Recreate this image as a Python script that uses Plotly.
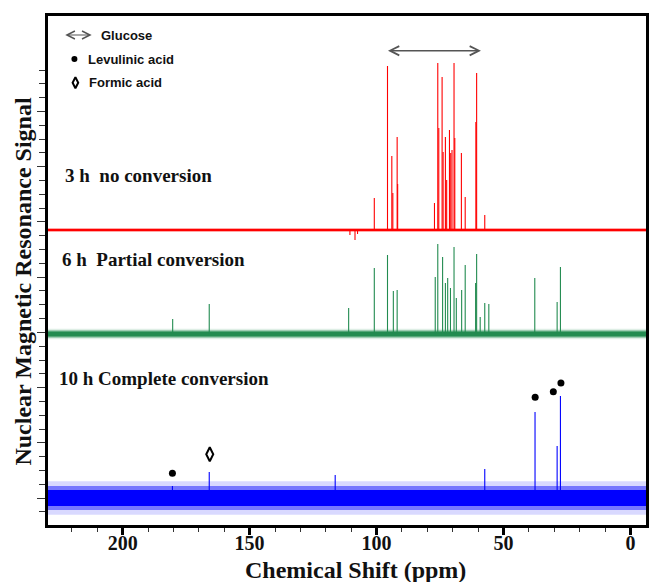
import plotly.graph_objects as go

# ---------------- data (ppm, intensity in arbitrary units) ----------------
X_MIN, X_MAX = -6.1, 229.4

red_base = 295
red_noise = 1.0
red_ppm = [100.9, 95.7, 94.0, 93.6, 91.9, 91.7, 77.2, 75.9, 75.5, 74.2, 73.8, 72.9, 72.4,
           71.3, 70.8, 70.3, 69.5, 69.2, 66.6, 65.1, 60.9, 60.6, 57.4, 110.5, 108.5, 107.5]
red_int = [32, 164, 74, 37, 93, 46, 27, 167, 102, 153, 78, 93, 50,
           100, 77, 80, 167, 92, 77, 33, 108, 157, 15, -5, -10, -4]

green_base = 191
green_noise = 2.5
green_ppm = [180.3, 165.9, 111.0, 100.9, 95.7, 93.4, 91.9, 76.9, 75.9, 74.0, 72.9, 72.0,
             70.9, 69.5, 68.6, 66.5, 65.1, 61.0, 60.6, 59.2, 57.4, 55.8, 37.7, 28.9, 27.6]
green_int = [15, 30, 26, 66, 79, 43, 44, 57, 90, 77, 51, 56,
             46, 87, 36, 44, 69, 51, 80, 17, 31, 30, 56, 32, 67]

blue_base = 27
blue_noise = 8
blue_ppm = [180.4, 165.9, 116.3, 57.4, 37.6, 28.9, 27.6]
blue_int = [12, 26, 23, 29, 86, 52, 102]

# peak assignments on the 10 h spectrum
levulinic_ppm = [180.4, 37.55, 30.4, 27.4]
levulinic_y = [51.7, 127.7, 133.3, 142.0]
formic_ppm = [165.7]
formic_y = [70.7]

glucose_range = [96.1, 58.9]
glucose_y = 474.3

labels = ["3 h  no conversion", "6 h  Partial conversion", "10 h Complete conversion"]
label_ppm = [223.4, 224.5, 226.0]
label_y = [350, 266, 147]

legend_items = ["Glucose", "Levulinic acid", "Formic acid"]

# ---------------- figure ----------------
fig = go.Figure()

SERIF = "Liberation Serif"
SANS = "Liberation Sans"


def band(base, half, fillcolor):
    fig.add_trace(go.Scatter(
        x=[X_MAX, X_MIN, X_MIN, X_MAX], y=[base - half, base - half, base + half, base + half],
        fill="toself", mode="none", fillcolor=fillcolor, hoverinfo="skip", showlegend=False))


def add_spectrum(ppm, inten, base, noise, color, rgb):
    band(base, 2.1 * noise, "rgba(%s,0.15)" % rgb)
    band(base, 1.5 * noise, "rgba(%s,0.45)" % rgb)
    band(base, noise, color)
    xs, ys = [], []
    for p, h in zip(ppm, inten):
        xs += [p, p, None]
        ys += [base, base + h, None]
    fig.add_trace(go.Scatter(x=xs, y=ys, mode="lines", line=dict(color=color, width=1.1),
                             hoverinfo="skip", showlegend=False))


add_spectrum(red_ppm, red_int, red_base, red_noise, "#ff0000", "255,0,0")
add_spectrum(green_ppm, green_int, green_base, green_noise, "#228b50", "34,139,80")
add_spectrum(blue_ppm, blue_int, blue_base, blue_noise, "#0000ff", "0,0,255")

# assignment markers
fig.add_trace(go.Scatter(x=levulinic_ppm, y=levulinic_y, mode="markers",
                         marker=dict(symbol="circle", size=7, color="black"),
                         hoverinfo="skip", showlegend=False))
fig.add_trace(go.Scatter(x=formic_ppm, y=formic_y, mode="markers",
                         marker=dict(symbol="diamond-tall-open", size=10, color="black",
                                     line=dict(width=2, color="black")),
                         hoverinfo="skip", showlegend=False))

# legend symbols (top-left)
fig.add_trace(go.Scatter(x=[219.0], y=[466], mode="markers",
                         marker=dict(symbol="circle", size=6, color="black"),
                         hoverinfo="skip", showlegend=False))
fig.add_trace(go.Scatter(x=[218.6], y=[442.3], mode="markers",
                         marker=dict(symbol="diamond-tall-open", size=8, color="black",
                                     line=dict(width=2, color="black")),
                         hoverinfo="skip", showlegend=False))

annotations = []
# legend arrow + texts
annotations.append(dict(x=212.2, y=490, ax=223.2, ay=490, xref="x", yref="y", axref="x", ayref="y",
                        text="", showarrow=True, arrowhead=5, startarrowhead=5, arrowside="end+start",
                        arrowsize=1.3, arrowwidth=1.2, arrowcolor="#555555"))
legend_pos = [(209.3, 490), (214.4, 466), (214.0, 442.3)]
for txt, (px, py) in zip(legend_items, legend_pos):
    annotations.append(dict(x=px, y=py, xref="x", yref="y", text=txt, showarrow=False,
                            xanchor="left", yanchor="middle",
                            font=dict(family=SANS, size=13, color="#111111", weight="bold")))

# glucose range arrow
annotations.append(dict(x=glucose_range[1], y=glucose_y, ax=glucose_range[0], ay=glucose_y,
                        xref="x", yref="y", axref="x", ayref="y", text="", showarrow=True,
                        arrowhead=5, startarrowhead=5, arrowside="end+start",
                        arrowsize=1.3, arrowwidth=1.4, arrowcolor="#555555"))

# spectrum labels
for txt, px, py in zip(labels, label_ppm, label_y):
    annotations.append(dict(x=px, y=py, xref="x", yref="y", text=txt, showarrow=False,
                            xanchor="left", yanchor="middle",
                            font=dict(family=SERIF, size=19, color="#111111", weight="bold")))

# axis titles
annotations.append(dict(x=0.515, y=-0.088, xref="paper", yref="paper",
                        text="Chemical Shift (ppm)", showarrow=False,
                        xanchor="center", yanchor="middle",
                        font=dict(family=SERIF, size=24, color="#111111", weight="bold")))
annotations.append(dict(x=-0.042, y=0.48, xref="paper", yref="paper",
                        text="Nuclear Magnetic Resonance Signal", showarrow=False, textangle=-90,
                        xanchor="center", yanchor="middle",
                        font=dict(family=SERIF, size=24, color="#111111", weight="bold")))

# y-axis tick positions (pixel-spaced decoration)
all_ticks = [525 - (70 + 13.81 * k) for k in range(33)]
major_ticks = [all_ticks[k] for k in range(3, 33, 4)]
minor_ticks = [t for i, t in enumerate(all_ticks) if (i - 3) % 4 != 0]

fig.update_layout(
    width=651, height=582,
    margin=dict(l=48, r=2, t=16, b=57),
    plot_bgcolor="white", paper_bgcolor="white",
    showlegend=False,
    annotations=annotations,
    xaxis=dict(range=[X_MAX, X_MIN], showgrid=False, zeroline=False,
               showline=True, linecolor="black", linewidth=3, mirror=True,
               ticks="outside", tickvals=[200, 150, 100, 50, 0], ticklen=7, tickwidth=3,
               tickcolor="black", ticklabelstandoff=-9,
               minor=dict(tickvals=[220, 210, 190, 180, 170, 160, 140, 130, 120, 110,
                                    90, 80, 70, 60, 40, 30, 20, 10],
                          ticklen=4, tickwidth=1, tickcolor="#333333", ticks="outside"),
               tickfont=dict(family=SERIF, size=20, color="#111111", weight="bold")),
    yaxis=dict(range=[0, 509], showgrid=False, zeroline=False,
               showline=True, linecolor="black", linewidth=3, mirror=True,
               showticklabels=False, ticks="outside", tickvals=major_ticks, ticklen=8,
               tickwidth=1, tickcolor="#333333",
               minor=dict(tickvals=minor_ticks, ticklen=6, tickwidth=1, tickcolor="#333333",
                          ticks="outside")),
)

fig.write_html("out.html")
